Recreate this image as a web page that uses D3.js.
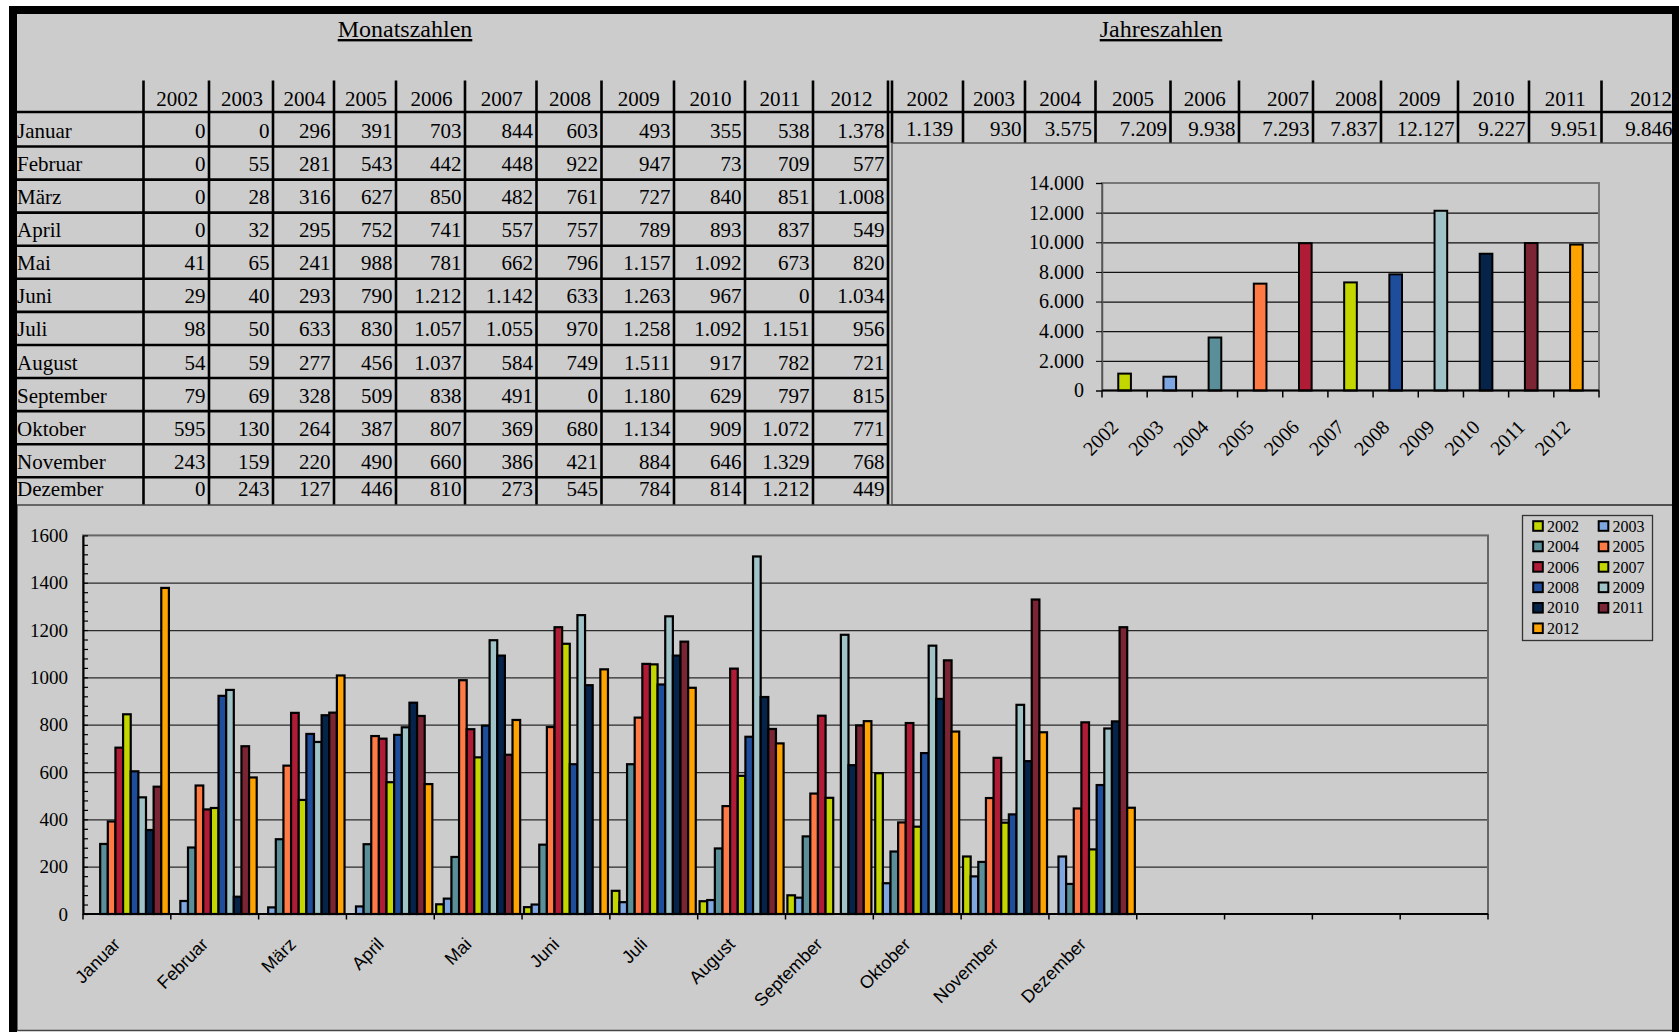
<!DOCTYPE html>
<html><head><meta charset="utf-8">
<script src="https://cdn.jsdelivr.net/npm/d3@7"></script>
<style>
body{margin:0;background:#fff;}
svg{display:block;}
text{font-family:"Liberation Serif","Times New Roman",serif;fill:#000;}
.sans{font-family:"Liberation Sans",Arial,sans-serif;}
</style>
</head><body>
<svg id="c" width="1679" height="1032"></svg>
<script>
// ---------------- DATA ----------------
const years = ["2002","2003","2004","2005","2006","2007","2008","2009","2010","2011","2012"];
const months = ["Januar","Februar","März","April","Mai","Juni","Juli","August","September","Oktober","November","Dezember"];
const s2002 = [0,0,0,0,41,29,98,54,79,595,243,0];
const s2003 = [0,55,28,32,65,40,50,59,69,130,159,243];
const s2004 = [296,281,316,295,241,293,633,277,328,264,220,127];
const s2005 = [391,543,627,752,988,790,830,456,509,387,490,446];
const s2006 = [703,442,850,741,781,1212,1057,1037,838,807,660,810];
const s2007 = [844,448,482,557,662,1142,1055,584,491,369,386,273];
const s2008 = [603,922,761,757,796,633,970,749,0,680,421,545];
const s2009 = [493,947,727,789,1157,1263,1258,1511,1180,1134,884,784];
const s2010 = [355,73,840,893,1092,967,1092,917,629,909,646,814];
const s2011 = [538,709,851,837,673,0,1151,782,797,1072,1329,1212];
const s2012 = [1378,577,1008,549,820,1034,956,721,815,771,768,449];
const yearTotals = [1139,930,3575,7209,9938,7293,7837,12127,9227,9951,9846];
const seriesColors = ["#c4d600","#7ea6e0","#5a8f99","#ff7a45","#b01c36","#c4d600","#1e4d9b","#9fc3c6","#06234a","#7b2433","#ffa300"];
const bigTicks = [0,200,400,600,800,1000,1200,1400,1600];
const smallTicks = [0,2000,4000,6000,8000,10000,12000,14000];
const emptySlots = 4;
const titleMonthly = "Monatszahlen";
const titleYearly = "Jahreszahlen";

const series = [s2002,s2003,s2004,s2005,s2006,s2007,s2008,s2009,s2010,s2011,s2012];

// ---------------- SETUP ----------------
const W = 1679, H = 1032;
const svg = d3.select("#c");
const bg = "#cccccc";
const de = d3.formatLocale({decimal:",", thousands:".", grouping:[3], currency:["","€"]});
const fmt = de.format(",d");

svg.append("rect").attr("width",W).attr("height",H).attr("fill","#fff");
svg.append("rect").attr("x",17).attr("y",14).attr("width",1655).attr("height",1017).attr("fill",bg);

// Titles
svg.append("text").attr("x",405).attr("y",37).attr("text-anchor","middle")
  .attr("font-size",24).attr("text-decoration","underline").text(titleMonthly);
svg.append("text").attr("x",1161).attr("y",37).attr("text-anchor","middle")
  .attr("font-size",24).attr("text-decoration","underline").text(titleYearly);

// ---------------- TABLES ----------------
const leftCols = [17,143.5,209,273,334,396,465,536.5,601.5,674,745,813,888];
const rightCols = [892,963,1025,1095.5,1170.5,1239,1313,1381,1458,1529,1601.5,1676];
const headTop = 80.5, headBottom = 112, yearRowBottom = 143;
const rowBottoms = months.map((m,i)=> i<11 ? 146.5+33.08*i : 504);
const fs = 21;
const tbl = svg.append("g").attr("font-size",fs);

// header years left
tbl.selectAll("text.lh").data(years).join("text").attr("class","lh")
  .attr("x",(d,j)=>(leftCols[j+1]+leftCols[j+2])/2+1).attr("y",headBottom-6)
  .attr("text-anchor","middle").text(d=>d);
// month labels
tbl.selectAll("text.ml").data(months).join("text").attr("class","ml")
  .attr("x",17).attr("y",(d,i)=>rowBottoms[i]-8.5).text(d=>d);
// values
series.forEach((s,j)=>{
  tbl.selectAll("text.v"+j).data(s).join("text").attr("class","v"+j)
    .attr("x",leftCols[j+2]-3.5).attr("y",(d,i)=>rowBottoms[i]-8.5)
    .attr("text-anchor","end").text(d=>fmt(d));
});
// right header
const rightAligned = new Set(["2007","2008","2012"]);
tbl.selectAll("text.rh").data(years).join("text").attr("class","rh")
  .attr("x",(d,j)=> rightAligned.has(d) ? rightCols[j+1]-4 : (rightCols[j]+rightCols[j+1])/2)
  .attr("y",headBottom-6)
  .attr("text-anchor",d=> rightAligned.has(d) ? "end" : "middle").text(d=>d);
tbl.selectAll("text.rv").data(yearTotals).join("text").attr("class","rv")
  .attr("x",(d,j)=> j===0 ? (rightCols[0]+rightCols[1])/2+2 : rightCols[j+1]-3.5)
  .attr("y",136)
  .attr("text-anchor",(d,j)=> j===0 ? "middle" : "end").text(d=>fmt(d));

// table lines
const ln = svg.append("g").attr("stroke","#000").attr("stroke-width",2.6);
ln.append("line").attr("x1",17).attr("x2",1672).attr("y1",headBottom).attr("y2",headBottom);
rowBottoms.slice(0,11).forEach(y=>{
  ln.append("line").attr("x1",17).attr("x2",888).attr("y1",y).attr("y2",y);
});
leftCols.slice(1).forEach(x=>{
  ln.append("line").attr("x1",x).attr("x2",x).attr("y1",headTop).attr("y2",505);
});
rightCols.slice(0,11).forEach(x=>{
  ln.append("line").attr("x1",x).attr("x2",x).attr("y1",headTop).attr("y2",yearRowBottom);
});

// chart frames
svg.append("rect").attr("x",892).attr("y",yearRowBottom).attr("width",800).attr("height",362)
  .attr("fill","none").attr("stroke","#444").attr("stroke-width",1.3);
svg.append("rect").attr("x",17).attr("y",505).attr("width",1680).attr("height",525.5)
  .attr("fill","none").attr("stroke","#444").attr("stroke-width",1.5);

// ---------------- SMALL CHART ----------------
const sx0=1102, sx1=1599, sy0=390.5, sy1=183;
const xS = d3.scaleBand().domain(years).range([sx0,sx1]).paddingInner(0.72).paddingOuter(0.36);
const yS = d3.scaleLinear().domain([0,14000]).range([sy0,sy1]);
const sc = svg.append("g");
// gridlines
sc.append("g").attr("transform",`translate(${sx0},0)`)
  .call(d3.axisLeft(yS).tickValues(smallTicks.slice(1,-1)).tickSize(-(sx1-sx0)).tickFormat(""))
  .call(g=>g.select(".domain").remove())
  .call(g=>g.selectAll("line").attr("stroke","#111").attr("stroke-width",1.2));
// plot border
sc.append("rect").attr("x",sx0).attr("y",sy1).attr("width",sx1-sx0).attr("height",sy0-sy1)
  .attr("fill","none").attr("stroke","#777").attr("stroke-width",2);
// bars
sc.selectAll("rect.b").data(yearTotals).join("rect").attr("class","b")
  .attr("x",(d,i)=>xS(years[i])).attr("width",xS.bandwidth())
  .attr("y",d=>yS(d)).attr("height",d=>sy0-yS(d))
  .attr("fill",(d,i)=>seriesColors[i]).attr("stroke","#000").attr("stroke-width",2);
// y axis
sc.append("g").attr("transform",`translate(${sx0},0)`)
  .call(d3.axisLeft(yS).tickValues(smallTicks).tickSize(6).tickPadding(12).tickFormat(d=>fmt(d)))
  .call(g=>g.select(".domain").attr("stroke","#555").attr("stroke-width",1.5))
  .call(g=>g.selectAll("line").attr("stroke","#000"))
  .call(g=>g.selectAll("text").attr("font-family","Liberation Serif, Times New Roman, serif").attr("font-size",20).attr("fill","#000"));
// x axis
sc.append("line").attr("x1",sx0).attr("x2",sx1).attr("y1",sy0).attr("y2",sy0).attr("stroke","#000").attr("stroke-width",2);
sc.selectAll("line.xt").data(years.map((y,i)=>sx0+i*(sx1-sx0)/years.length).concat([sx1])).join("line").attr("class","xt")
  .attr("x1",d=>d).attr("x2",d=>d).attr("y1",sy0).attr("y2",sy0+7).attr("stroke","#000").attr("stroke-width",1.5);
sc.selectAll("text.xl").data(years).join("text").attr("class","xl")
  .attr("transform",d=>`translate(${xS(d)+xS.bandwidth()/2-10},${sy0+33}) rotate(-45)`)
  .attr("text-anchor","end").attr("dy","0.35em").attr("font-size",20).text(d=>d);

// ---------------- BIG CHART ----------------
const bx0=83, bx1=1488, by0=914, by1=535.4;
const catKeys = months.concat(d3.range(emptySlots).map(i=>"_"+i));
const xB = d3.scaleBand().domain(catKeys).range([bx0,bx1]).padding(0);
const xSub = d3.scaleBand().domain(years).range([0,xB.bandwidth()]).paddingInner(0).paddingOuter(0.25);
const yB = d3.scaleLinear().domain([0,1600]).range([by0,by1]);
const bc = svg.append("g");
// gridlines
bc.append("g").attr("transform",`translate(${bx0},0)`)
  .call(d3.axisLeft(yB).tickValues(bigTicks.slice(1,-1)).tickSize(-(bx1-bx0)).tickFormat(""))
  .call(g=>g.select(".domain").remove())
  .call(g=>g.selectAll("line").attr("stroke","#2a2a2a").attr("stroke-width",1.3));
bc.append("rect").attr("x",bx0).attr("y",by1).attr("width",bx1-bx0).attr("height",by0-by1)
  .attr("fill","none").attr("stroke","#666").attr("stroke-width",2);
// bars
const barData = [];
series.forEach((s,j)=> s.forEach((v,i)=>{ if(v>0) barData.push({m:months[i], y:years[j], v, c:seriesColors[j]}); }));
bc.selectAll("rect.bar").data(barData).join("rect").attr("class","bar")
  .attr("x",d=>xB(d.m)+xSub(d.y)).attr("width",xSub.bandwidth())
  .attr("y",d=>yB(d.v)).attr("height",d=>by0-yB(d.v))
  .attr("fill",d=>d.c).attr("stroke","#000").attr("stroke-width",2.2);
// minor ticks (inward)
bc.append("g").attr("transform",`translate(${bx0},0)`)
  .call(d3.axisLeft(yB).tickValues(d3.range(0,1601,40)).tickSize(-5).tickFormat(""))
  .call(g=>g.select(".domain").remove())
  .call(g=>g.selectAll("line").attr("stroke","#000").attr("stroke-width",1.2));
// y axis labels + domain
bc.append("g").attr("transform",`translate(${bx0},0)`)
  .call(d3.axisLeft(yB).tickValues(bigTicks).tickSize(0).tickPadding(15).tickFormat(d=>d))
  .call(g=>g.select(".domain").attr("stroke","#000").attr("stroke-width",2))
  .call(g=>g.selectAll("text").attr("font-family","Liberation Serif, Times New Roman, serif").attr("font-size",19).attr("fill","#000"));
// x axis
bc.append("line").attr("x1",bx0).attr("x2",bx1).attr("y1",by0).attr("y2",by0).attr("stroke","#000").attr("stroke-width",2.2);
bc.selectAll("line.xt").data(catKeys.map(k=>xB(k)).concat([bx1])).join("line").attr("class","xt")
  .attr("x1",d=>d).attr("x2",d=>d).attr("y1",by0).attr("y2",by0+5.5).attr("stroke","#000").attr("stroke-width",1.5);
bc.selectAll("text.ml").data(months).join("text").attr("class","ml sans")
  .attr("transform",d=>`translate(${xB(d)+xB.bandwidth()/2-10},${by0+27}) rotate(-45)`)
  .attr("text-anchor","end").attr("dy","0.35em").attr("font-size",18).text(d=>d);

// legend
const lg = svg.append("g");
lg.append("rect").attr("x",1522.5).attr("y",515.5).attr("width",130).attr("height",125)
  .attr("fill",bg).attr("stroke","#333").attr("stroke-width",1.3);
years.forEach((y,i)=>{
  const col = i%2, row = Math.floor(i/2);
  const cx = 1538 + col*65.5, cy = 526 + row*20.45;
  lg.append("rect").attr("x",cx-4.8).attr("y",cy-4.8).attr("width",9.6).attr("height",9.6)
    .attr("fill",seriesColors[i]).attr("stroke","#000").attr("stroke-width",2);
  lg.append("text").attr("x",cx+9).attr("y",cy).attr("dy","0.35em").attr("font-size",16).text(y);
});

// outer black border
svg.append("rect").attr("x",9).attr("y",6).attr("width",1670).attr("height",8).attr("fill","#000");
svg.append("rect").attr("x",9).attr("y",6).attr("width",8).attr("height",1026).attr("fill","#000");
svg.append("rect").attr("x",1672).attr("y",6).attr("width",7).attr("height",1026).attr("fill","#000");
</script>
</body></html>
